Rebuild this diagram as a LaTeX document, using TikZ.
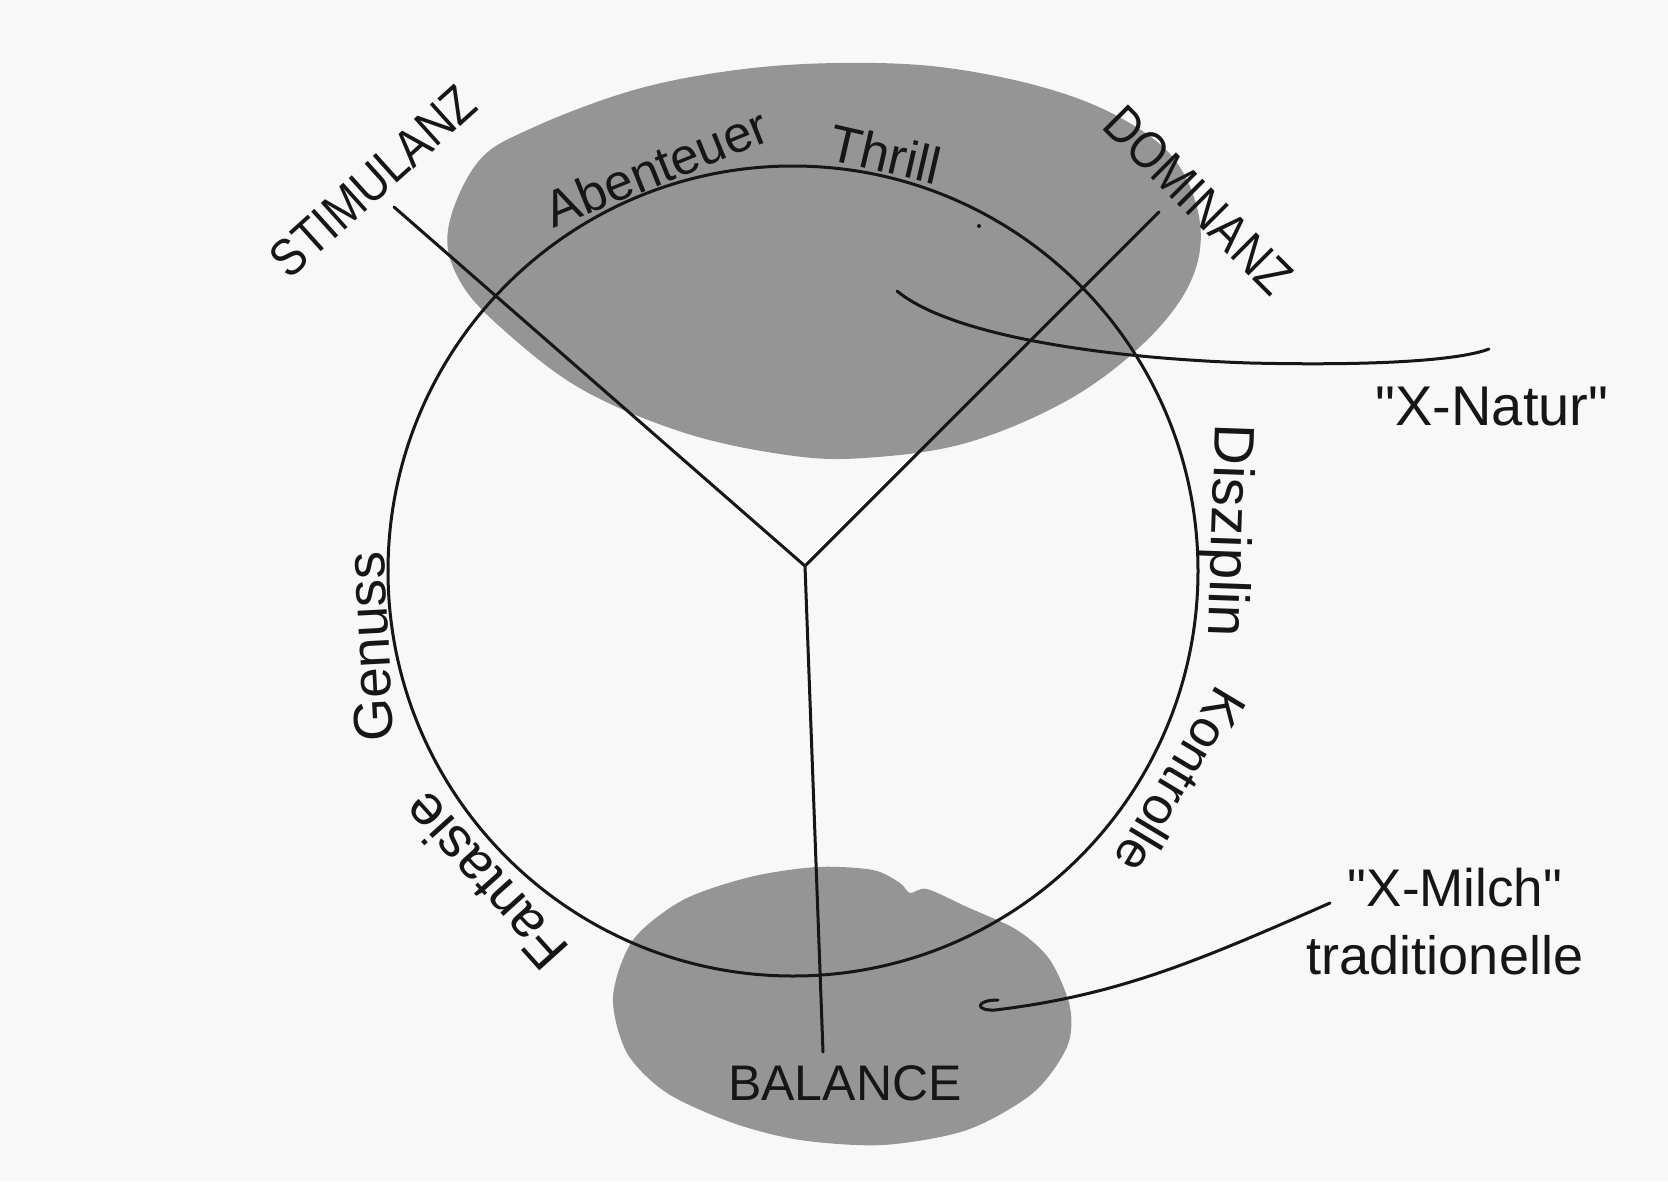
\documentclass[tikz,border=0pt]{standalone}
\usepackage{fontspec}
\setmainfont{Liberation Sans}[Ligatures=TeXOff]
\usepackage{graphicx}
\definecolor{bgc}{HTML}{F8F8F8}
\definecolor{blobc}{HTML}{959595}
\definecolor{inkc}{HTML}{161616}
\begin{document}
\begin{tikzpicture}[x=1pt,y=1pt,
  ink/.style={draw=inkc, line width=3pt, line cap=round, line join=round},
  blobfill/.style={fill=blobc, draw=none},
  lab/.style={inner sep=0pt, outer sep=0pt, text=inkc},
]
\useasboundingbox (0,0) rectangle (1668,-1181);
\fill[bgc] (0,0) rectangle (1668,-1181);

% grey blobs
\fill[blobfill] plot[smooth cycle, tension=0.6] coordinates {
 (448,-230) (478,-162) (532,-128) (634,-90) (736,-70) (838,-63) (940,-67)
 (1042,-87) (1119,-117) (1175,-160) (1200,-223) (1190,-283) (1144,-343)
 (1068,-400) (966,-443) (864,-458) (787,-455) (685,-433) (583,-390)
 (507,-333) (461,-283)};
\fill[blobfill] plot[smooth cycle, tension=0.5] coordinates {
 (613,-997) (633,-940) (683,-900) (750,-877) (817,-867) (873,-870)
 (900,-883) (910,-893) (927,-889) (967,-907) (1017,-930) (1050,-960)
 (1070,-1007) (1067,-1047) (1033,-1093) (967,-1130) (883,-1145)
 (800,-1140) (733,-1123) (667,-1093) (627,-1053)};

% circle
\node[circle, ink, minimum size=810pt, inner sep=0pt] (C) at (793,-571) {};

% Y lines
\coordinate (J) at (805,-566);
\coordinate (S) at (394,-207);
\coordinate (D) at (1159,-212);
\coordinate (B) at (823,-1052);
\draw[ink] (S) -- (J) -- (D);
\draw[ink] (J) -- (B);

% small dot
\fill[inkc] (979,-226) circle (2);

% connectors
\coordinate (nA) at (897,-291);
\coordinate (nB) at (1489,-349);
\draw[ink] (nA) .. controls (950,-335) and (1100,-358) .. (1250,-363)
            .. controls (1380,-366) and (1460,-360) .. (nB);
\coordinate (mA) at (998,-1000);
\coordinate (mB) at (1330,-903);
\draw[ink] (mA) .. controls (975,-1000) and (975,-1011) .. (995,-1010)
            .. controls (1120,-995) and (1200,-960) .. (mB);

% labels
\node[lab, rotate=42, font=\fontsize{52}{60}\selectfont] (lStim) at (373,-181) {\scalebox{0.87}[1]{STIMULANZ}};
\node[lab, rotate=-45, font=\fontsize{52}{60}\selectfont] (lDom) at (1198,-200) {\scalebox{0.87}[1]{DOMINANZ}};
\node[lab, anchor=base, rotate=22, font=\fontsize{51}{60}\selectfont] (lAb) at (663,-184) {Abenteuer};
\node[lab, anchor=base, rotate=-13, font=\fontsize{52}{60}\selectfont] (lThr) at (881,-172) {Thrill};
\node[lab, anchor=base, rotate=-92, font=\fontsize{57}{60}\selectfont] (lDis) at (1212,-530) {Disziplin};
\node[lab, rotate=-121, font=\fontsize{52}{60}\selectfont] (lKon) at (1181,-781) {Kontrolle};
\node[lab, rotate=93, font=\fontsize{55}{60}\selectfont] (lGen) at (370,-647) {Genuss};
\node[lab, rotate=132, font=\fontsize{56}{60}\selectfont] (lFan) at (485,-882) {Fantasie};
\node[lab, font=\fontsize{50}{60}\selectfont] (lBal) at (845,-1083) {BALANCE};
\node[lab, font=\fontsize{56}{60}\selectfont] (lNat) at (1492,-407) {"X-Natur"};
\node[lab, font=\fontsize{53}{60}\selectfont] (lMil) at (1455,-888) {"X-Milch"};
\node[lab, font=\fontsize{54}{60}\selectfont] (lTrad) at (1445,-955) {traditionelle};
\end{tikzpicture}
\end{document}
